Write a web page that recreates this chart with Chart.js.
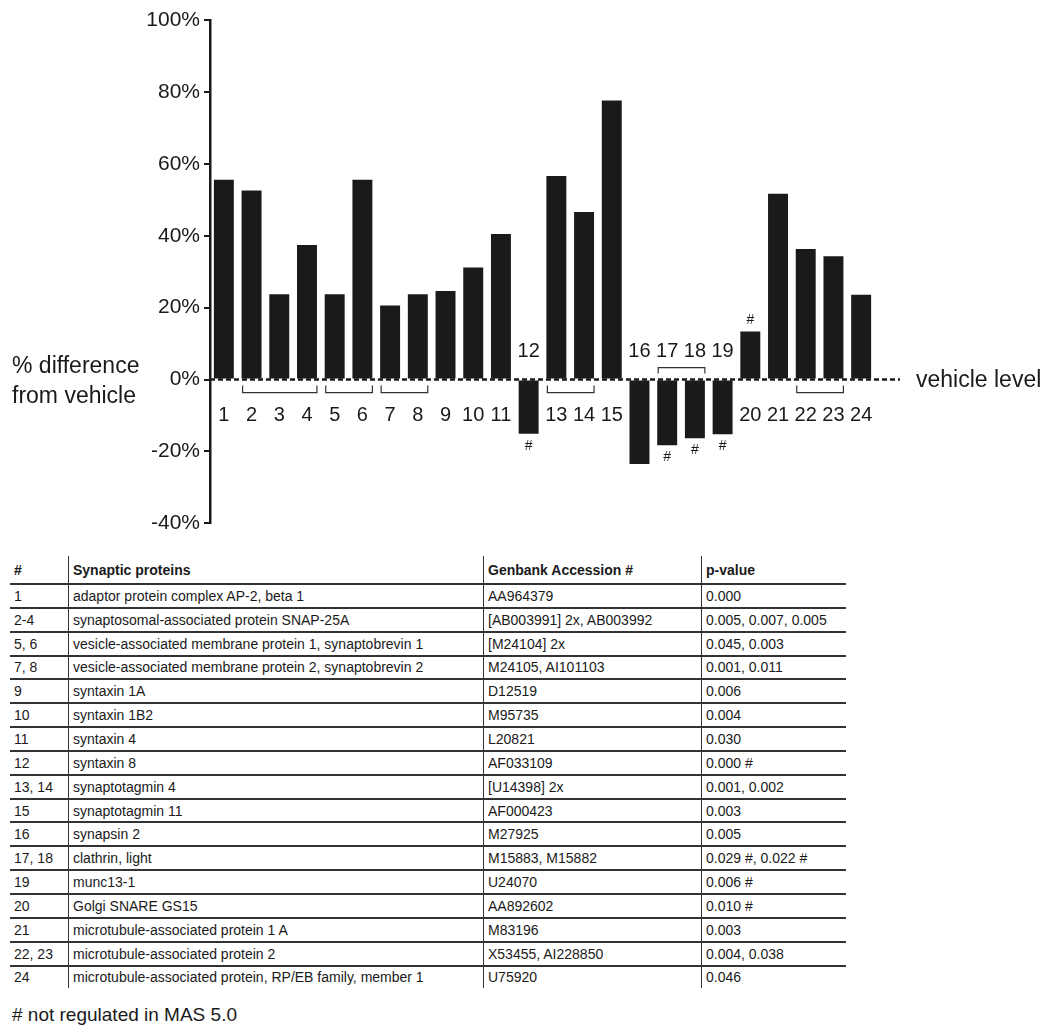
<!DOCTYPE html>
<html lang="en">
<head>
    <meta charset="UTF-8">
    <title>Synaptic proteins - % difference from vehicle</title>
    <script src="https://cdn.jsdelivr.net/npm/chart.js"></script>
    <style>
        body { margin: 0; background: #fff; font-family: "Liberation Sans", Arial, sans-serif; color: #1a1a1a; }
        #wrap { position: relative; width: 1050px; height: 1031px; }
        #chart { position: absolute; left: 0; top: 0; }
        table { position: absolute; left: 10px; top: 556px; border-collapse: collapse; font-size: 14px; }
        th, td { text-align: left; padding: 0 0 0 4px; height: 21.85px; border-bottom: 2px solid #333; white-space: nowrap; }
        th { height: 27px; font-weight: bold; vertical-align: middle; }
        td + td, th + th { border-left: 1.5px solid #333; }
        tr:last-child td { border-bottom: none; }
        #note { position: absolute; left: 12px; top: 1004px; font-size: 19px; }
    </style>
</head>
<body>
<div id="wrap">
    <canvas id="chart" width="1050" height="540"></canvas>
    <table id="proteins"></table>
    <div id="note"># not regulated in MAS 5.0</div>
</div>
<script>
    // chart data
    const categories = ['1', '2', '3', '4', '5', '6', '7', '8', '9', '10', '11', '12',
        '13', '14', '15', '16', '17', '18', '19', '20', '21', '22', '23', '24'];
    const changes = [55.6, 52.6, 23.7, 37.4, 23.7, 55.6, 20.6, 23.7, 24.6, 31.2, 40.5, -15.1,
        56.6, 46.6, 77.6, -23.5, -18.3, -16.3, -15.2, 13.4, 51.7, 36.3, 34.3, 23.6];
    const yTicks = [-40, -20, 0, 20, 40, 60, 80, 100];
    const notRegulated = ['12', '17', '18', '19', '20'];
    const bracketsBelow = [['2', '4'], ['5', '6'], ['7', '8'], ['13', '14'], ['22', '23']];
    const bracketsAbove = [['17', '18']];

    // table data
    const tableHeader = ['#', 'Synaptic proteins', 'Genbank Accession #', 'p-value'];
    const tableIds = ['1', '2-4', '5, 6', '7, 8', '9', '10', '11', '12', '13, 14', '15', '16',
        '17, 18', '19', '20', '21', '22, 23', '24'];
    const tableProteins = [
        'adaptor protein complex AP-2, beta 1',
        'synaptosomal-associated protein SNAP-25A',
        'vesicle-associated membrane protein 1, synaptobrevin 1',
        'vesicle-associated membrane protein 2, synaptobrevin 2',
        'syntaxin 1A', 'syntaxin 1B2', 'syntaxin 4', 'syntaxin 8',
        'synaptotagmin 4', 'synaptotagmin 11', 'synapsin 2', 'clathrin, light',
        'munc13-1', 'Golgi SNARE GS15', 'microtubule-associated protein 1 A',
        'microtubule-associated protein 2',
        'microtubule-associated protein, RP/EB family, member 1'];
    const tableAccessions = ['AA964379', '[AB003991] 2x, AB003992', '[M24104] 2x', 'M24105, AI101103',
        'D12519', 'M95735', 'L20821', 'AF033109', '[U14398] 2x', 'AF000423', 'M27925',
        'M15883, M15882', 'U24070', 'AA892602', 'M83196', 'X53455, AI228850', 'U75920'];
    const tablePValues = ['0.000', '0.005, 0.007, 0.005', '0.045, 0.003', '0.001, 0.011', '0.006',
        '0.004', '0.030', '0.000 #', '0.001, 0.002', '0.003', '0.005', '0.029 #, 0.022 #',
        '0.006 #', '0.010 #', '0.003', '0.004, 0.038', '0.046'];
    const colWidths = [54, 410, 213, 140];

    const ink = '#1a1a1a';
    const font = '"Liberation Sans", Arial, sans-serif';

    // table
    const table = document.getElementById('proteins');
    let html = '<tr>' + tableHeader.map((h, i) => `<th style="width:${colWidths[i]}px">${h}</th>`).join('') + '</tr>';
    tableIds.forEach((id, i) => {
        html += `<tr><td>${id}</td><td>${tableProteins[i]}</td><td>${tableAccessions[i]}</td><td>${tablePValues[i]}</td></tr>`;
    });
    table.innerHTML = html;

    // labels, brackets, dashed vehicle line
    const annotations = {
        id: 'annotations',
        afterDatasetsDraw(chart) {
            const { ctx, chartArea } = chart;
            const x = chart.scales.x, y = chart.scales.y;
            const zero = y.getPixelForValue(0);
            const bars = chart.getDatasetMeta(0).data;
            ctx.save();
            ctx.fillStyle = ink;
            ctx.strokeStyle = ink;

            // dashed zero line
            ctx.setLineDash([5, 3]);
            ctx.lineWidth = 2.5;
            ctx.beginPath();
            ctx.moveTo(chartArea.left, zero);
            ctx.lineTo(900, zero);
            ctx.stroke();
            ctx.setLineDash([]);

            ctx.textBaseline = 'middle';
            ctx.font = '23px ' + font;
            ctx.textAlign = 'left';
            ctx.fillText('vehicle level', 916, zero + 1);
            ctx.textBaseline = 'alphabetic';
            ctx.fillText('% difference', 12, zero - 7);
            ctx.fillText('from vehicle', 12, zero + 23);

            // category numbers and # marks
            ctx.textAlign = 'center';
            ctx.textBaseline = 'middle';
            categories.forEach((c, i) => {
                const px = x.getPixelForValue(i);
                const v = changes[i];
                ctx.font = '20px ' + font;
                ctx.fillText(c, px, v >= 0 ? zero + 36 : zero - 28);
                if (notRegulated.includes(c)) {
                    const end = y.getPixelForValue(v);
                    ctx.font = '14px ' + font;
                    ctx.fillText('#', px, v >= 0 ? end - 11 : end + 12);
                }
            });

            // brackets
            ctx.lineWidth = 1.2;
            ctx.strokeStyle = '#333';
            const edges = (a, b) => {
                const ba = bars[categories.indexOf(a)], bb = bars[categories.indexOf(b)];
                return [ba.x - ba.width / 2 + 1, bb.x + bb.width / 2];
            };
            bracketsBelow.forEach(([a, b]) => {
                const [l, r] = edges(a, b);
                ctx.beginPath();
                ctx.moveTo(l, zero + 6);
                ctx.lineTo(l, zero + 13);
                ctx.lineTo(r, zero + 13);
                ctx.lineTo(r, zero + 6);
                ctx.stroke();
            });
            bracketsAbove.forEach(([a, b]) => {
                const [l, r] = edges(a, b);
                ctx.beginPath();
                ctx.moveTo(l, zero - 6);
                ctx.lineTo(l, zero - 12);
                ctx.lineTo(r, zero - 12);
                ctx.lineTo(r, zero - 6);
                ctx.stroke();
            });
            ctx.restore();
        }
    };

    new Chart(document.getElementById('chart'), {
        type: 'bar',
        data: {
            labels: categories,
            datasets: [{
                data: changes,
                backgroundColor: ink,
                borderWidth: 0,
                barPercentage: 0.72,
                categoryPercentage: 1
            }]
        },
        options: {
            responsive: false,
            animation: false,
            layout: { padding: { top: 20, right: 175, bottom: 16, left: 0 } },
            plugins: { legend: { display: false }, tooltip: { enabled: false } },
            scales: {
                x: { display: false },
                y: {
                    min: -40,
                    max: 100,
                    afterBuildTicks: s => { s.ticks = yTicks.map(v => ({ value: v })); },
                    afterFit: s => { s.width = 210; },
                    ticks: {
                        callback: v => v + '%',
                        color: ink,
                        padding: 4,
                        font: { size: 21, family: font }
                    },
                    grid: { drawOnChartArea: false, tickLength: 6, color: ink, lineWidth: 2 },
                    border: { color: ink, width: 2.5 }
                }
            }
        },
        plugins: [annotations]
    });
</script>
</body>
</html>
